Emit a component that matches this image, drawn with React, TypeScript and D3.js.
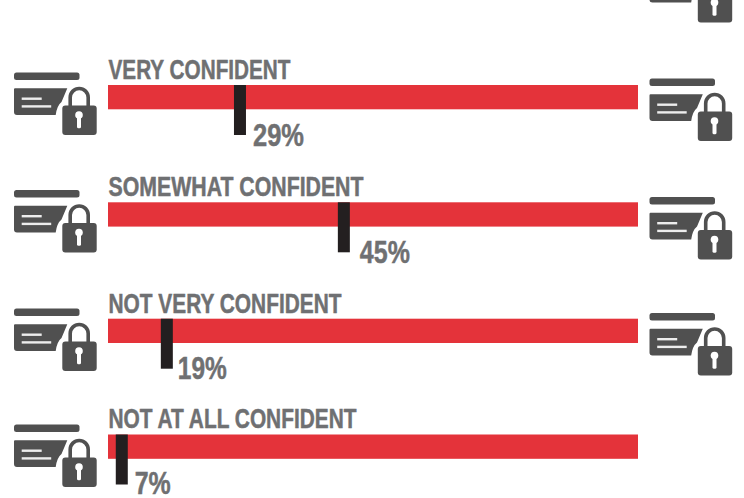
import React from "react";
import * as d3 from "d3";

const categories = ["VERY CONFIDENT", "SOMEWHAT CONFIDENT", "NOT VERY CONFIDENT", "NOT AT ALL CONFIDENT"];
const percentLabels = ["29%", "45%", "19%", "7%"];
// Marker positions as drawn along the 0–100 bar (the drawn markers are not linear with their labels)
const markerPositions = [24.9, 44.5, 11.1, 2.6];

const WIDTH = 744;
const HEIGHT = 498;
const RED = "#e4333a";
const DARK = "#231f20";
const GRAY = "#6f7072";
const ICON = "#505050";
const FONT = "'Liberation Sans Narrow', 'Liberation Sans', sans-serif";

const barTops = [85, 202.3, 318.7, 434.5];
const labelWidths = [182, 255, 233, 248];
const pctWidths = [51, 50, 49, 36];
const pctGaps = [7, 10, 5, 7];
const pctDrops = [61, 61, 60.3, 59];
const leftIconTops = [72.5, 190, 308.5, 424.5];
const rightIconTops = [-40, 78.5, 197, 313];

const x = d3.scaleLinear().domain([0, 100]).range([108, 638]);

function Icon({ tx, ty }: { tx: number; ty: number }) {
  const shackle = d3.path();
  shackle.moveTo(56.2, 34);
  shackle.lineTo(56.2, 25);
  shackle.arc(65.2, 25, 9, Math.PI, 0);
  shackle.lineTo(74.2, 34);
  return (
    <g transform={`translate(${tx},${ty})`} fill={ICON}>
      <rect x={0} y={0} width={65.5} height={7.5} rx={2.5} />
      <path d="M0,17 Q0,15.8 1,15.8 H53.3 L47.5,29.5 Q43,33 41.7,42.5 H3 Q0,42.5 0,39.5 Z" />
      <rect x={7.7} y={25} width={20} height={2.4} fill="#ededed" />
      <rect x={7.7} y={32.7} width={29.5} height={2.4} fill="#ededed" />
      <path d={shackle.toString()} fill="none" stroke={ICON} strokeWidth={3.6} />
      <rect x={48.3} y={33} width={34.4} height={29.5} rx={3} />
      <circle cx={65} cy={42.5} r={3.8} fill="#fff" />
      <rect x={63} y={42.5} width={4} height={13.3} rx={1.5} fill="#fff" />
    </g>
  );
}

export default function App() {
  return (
    <svg
      width={WIDTH}
      height={HEIGHT}
      viewBox={`0 0 ${WIDTH} ${HEIGHT}`}
      style={{ position: "absolute", left: 0, top: 0, display: "block", background: "#fff" }}
    >
      {rightIconTops.map((t, i) => (
        <Icon key={`r${i}`} tx={649.5} ty={t} />
      ))}
      {leftIconTops.map((t, i) => (
        <Icon key={`l${i}`} tx={14} ty={t} />
      ))}
      {categories.map((c, i) => {
        const top = barTops[i];
        const mx = x(markerPositions[i]);
        return (
          <g key={c}>
            <rect x={x(0)} y={top} width={x(100) - x(0)} height={24.3} fill={RED} />
            <rect x={mx - 6} y={top} width={12} height={50} fill={DARK} />
            <text
              x={x(0) + 0.5}
              y={top - 6.2}
              fontFamily={FONT}
              fontWeight={700}
              fontSize={27}
              fill={GRAY}
              stroke={GRAY}
              strokeWidth={0.5}
              textLength={labelWidths[i]}
              lengthAdjust="spacingAndGlyphs"
            >
              {c}
            </text>
            <text
              x={mx + 6 + pctGaps[i]}
              y={top + pctDrops[i]}
              fontFamily={FONT}
              fontWeight={700}
              fontSize={32}
              fill={GRAY}
              stroke={GRAY}
              strokeWidth={0.5}
              textLength={pctWidths[i]}
              lengthAdjust="spacingAndGlyphs"
            >
              {percentLabels[i]}
            </text>
          </g>
        );
      })}
    </svg>
  );
}
